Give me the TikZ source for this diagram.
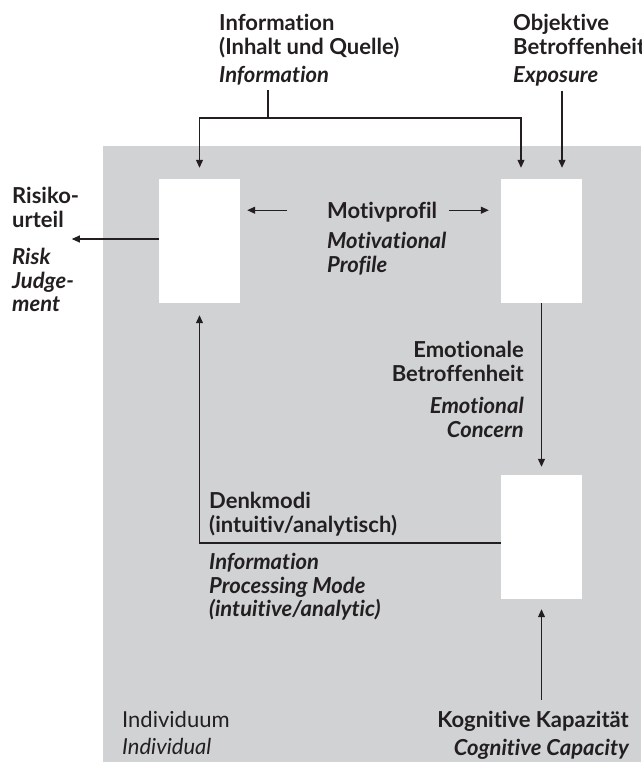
\documentclass[tikz,border=0pt]{standalone}
\usepackage{fontspec}
\setmainfont{Lato}[Ligatures=NoCommon]
\usepackage{xcolor}
\usepackage{tikz}
\usetikzlibrary{arrows.meta, positioning}
\definecolor{panelgray}{RGB}{209, 210, 212}
\definecolor{inkgray}{RGB}{35, 31, 32}

\begin{document}
\begin{tikzpicture}[
  x=1pt, y=-1pt,
  flow/.style={-{Triangle[length=8pt, width=7pt]}, line width=1.1pt, draw=inkgray},
  link/.style={line width=1.1pt, draw=inkgray},
  whitebox/.style={fill=white, draw=none, minimum width=81pt, minimum height=124pt, inner sep=0pt},
  lbl/.style={font=\fontsize{22}{23.5}\selectfont\bfseries, text=inkgray, inner sep=0pt},
  ital/.style={font=\fontsize{22}{23.5}\selectfont\bfseries\itshape},
]
  \useasboundingbox (0,0) rectangle (641,762);

  % Panel (individual)
  \fill[panelgray] (103,146) rectangle (641,762);

  % Boxes
  \node[whitebox] (judgebox) at (199.5,241) {};
  \node[whitebox] (concernbox) at (541.5,241) {};
  \node[whitebox] (capbox) at (541.5,537) {};

  % Labels
  \node[lbl, anchor=north west, align=left] (info) at (219,14)
    {Information\\ (Inhalt und Quelle)\\[5pt] \itshape Information};
  \node[lbl, anchor=north west, align=left] (expo) at (513,14)
    {Objektive\\ Betroffenheit\\[5pt] \itshape Exposure};
  \node[lbl, anchor=north west, align=left] (risk) at (12,187)
    {Risiko-\\ urteil\\[14pt] \itshape Risk\\ \itshape Judge-\\ \itshape ment};
  \node[lbl, anchor=north west] (motiv) at (327,202) {Motivprofil};
  \node[lbl, ital, anchor=north west, align=left] (motiven) at (327,232)
    {Motivational\\ Profile};
  \node[lbl, anchor=north east, align=right] (emo) at (524,341)
    {Emotionale\\ Betroffenheit\\[9pt] \itshape Emotional\\ \itshape Concern};
  \node[lbl, anchor=north west, align=left] (mode) at (209,492)
    {Denkmodi\\ (intuitiv/analytisch)};
  \node[lbl, ital, anchor=north west, align=left] (modeen) at (209,553)
    {Information\\ Processing Mode\\ (intuitive/analytic)};
  \node[lbl, anchor=north east, align=right] (cap) at (629,711)
    {Kognitive Kapazität\\[4pt] \itshape Cognitive Capacity};
  \node[lbl, font=\fontsize{22}{23.5}\selectfont\mdseries, anchor=north west, align=left] (indiv) at (122,711)
    {Individuum\\[4pt] \itshape Individual};

  % Connectors
  \coordinate (infojoin) at (268,118);
  \coordinate (expotip) at ([xshift=20.5pt, yshift=11pt]concernbox.north);
  \draw[link] ([yshift=-5pt]info.south -| infojoin) -- (infojoin);
  \draw[flow] (infojoin) -| ([yshift=11pt]judgebox.north);
  \draw[flow] (infojoin) -| ([xshift=-20.5pt, yshift=11pt]concernbox.north);
  \draw[flow] ([yshift=-5pt]expo.south -| expotip) -- (expotip);
  \draw[flow] ([yshift=2pt]judgebox.west) -- ++(-87,0);
  \draw[flow] ([xshift=47pt, yshift=2pt]motiv.west -| judgebox.east) -- ([xshift=7pt, yshift=2pt]motiv.west -| judgebox.east);
  \draw[flow] ([xshift=-52pt, yshift=2pt]motiv.east -| concernbox.west) -- ([xshift=-12pt, yshift=2pt]motiv.east -| concernbox.west);
  \draw[flow] (concernbox.south) -- ([yshift=8pt]capbox.north);
  \draw[flow] ([yshift=-6pt]capbox.west) -| ([yshift=-12pt]judgebox.south);
  \draw[flow] ([yshift=11pt]cap.north -| capbox.south) -- ([yshift=-10pt]capbox.south);
\end{tikzpicture}
\end{document}
